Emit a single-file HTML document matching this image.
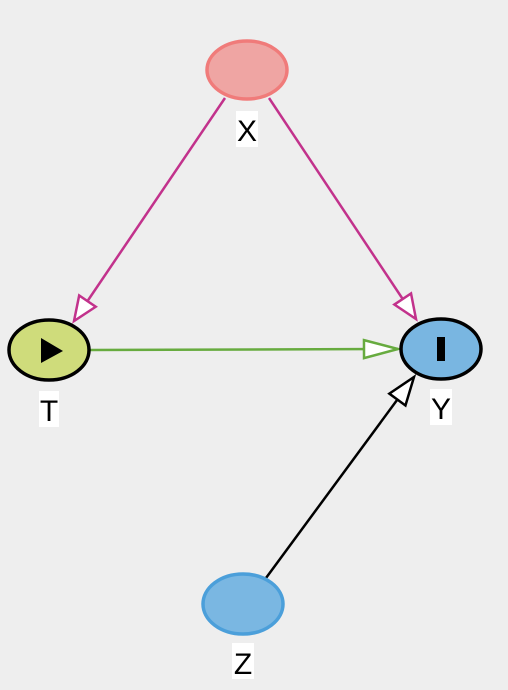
<!DOCTYPE html>
<html><head><meta charset="utf-8"><style>
html,body{margin:0;padding:0;background:#eeeeee;}
svg{display:block;}
text{font-family:"Liberation Sans",sans-serif;font-size:30px;}
</style></head><body>
<svg width="508" height="690" viewBox="0 0 508 690" xmlns="http://www.w3.org/2000/svg">
<defs>
<marker id="mp" markerUnits="userSpaceOnUse" markerWidth="30" markerHeight="26" refX="26" refY="13" orient="auto"><path d="M2,3 L26,13 L2,23 Z" fill="#fff" stroke="#c2328c" stroke-width="2.5"/></marker>
<marker id="mg" markerUnits="userSpaceOnUse" markerWidth="40" markerHeight="26" refX="36" refY="13" orient="auto"><path d="M2,4 L36,13 L2,22 Z" fill="#fff" stroke="#67ab3f" stroke-width="2.5"/></marker>
<marker id="mk" markerUnits="userSpaceOnUse" markerWidth="34" markerHeight="26" refX="30" refY="13" orient="auto"><path d="M2,3 L30,13 L2,23 Z" fill="#fff" stroke="#000" stroke-width="2.5"/></marker>
</defs>
<line x1="225" y1="98" x2="74" y2="321" stroke="#c2328c" stroke-width="2.5" marker-end="url(#mp)"/>
<line x1="269" y1="98" x2="416" y2="319" stroke="#c2328c" stroke-width="2.5" marker-end="url(#mp)"/>
<line x1="90" y1="350" x2="398" y2="349" stroke="#67ab3f" stroke-width="2.5" marker-end="url(#mg)"/>
<line x1="266" y1="578" x2="414" y2="377" stroke="#000" stroke-width="2.5" marker-end="url(#mk)"/>
<ellipse cx="247" cy="70" rx="40" ry="29" fill="#efa5a3" stroke="#f07b7a" stroke-width="3.5"/>
<ellipse cx="49" cy="350" rx="40" ry="30" fill="#cfdc7b" stroke="#000" stroke-width="3.5"/>
<path d="M41,338 L63,351 L41,363 Z" fill="#000"/>
<ellipse cx="441" cy="349" rx="40" ry="30" fill="#79b6e1" stroke="#000" stroke-width="3.5"/>
<rect x="437" y="337" width="8" height="24" fill="#000"/>
<ellipse cx="243" cy="604" rx="40" ry="30" fill="#7ab7e2" stroke="#4b9fda" stroke-width="3.5"/>
<rect x="236" y="111" width="22" height="36" fill="#fff"/><text x="247" y="141" text-anchor="middle">X</text>
<rect x="39" y="391" width="20" height="36" fill="#fff"/><text x="49" y="421" text-anchor="middle">T</text>
<rect x="430" y="389" width="22" height="36" fill="#fff"/><text x="441" y="419" text-anchor="middle">Y</text>
<rect x="232" y="643" width="22" height="36" fill="#fff"/><text x="243" y="674" text-anchor="middle">Z</text>
</svg>
</body></html>
